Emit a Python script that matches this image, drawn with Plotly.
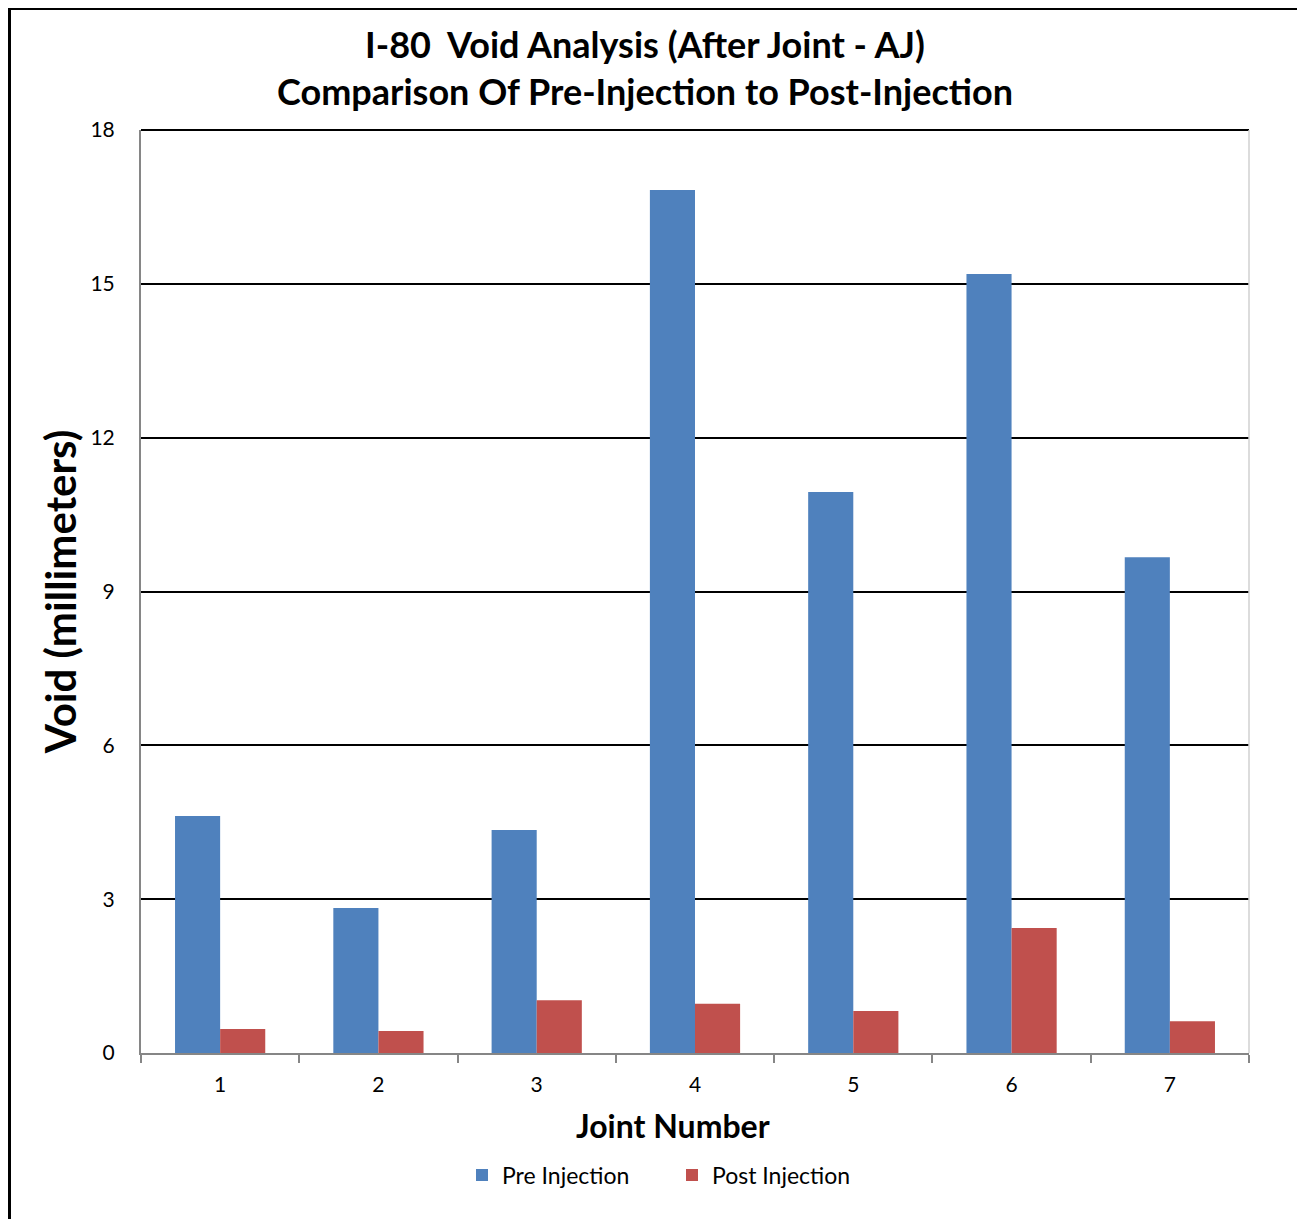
import plotly.graph_objects as go

joints = ["1", "2", "3", "4", "5", "6", "7"]
pre_injection = [4.62, 2.83, 4.35, 16.83, 10.94, 15.19, 9.67]
post_injection = [0.47, 0.43, 1.03, 0.96, 0.82, 2.44, 0.62]

OFF = 8  # page body margin
W, H = 1305 - OFF, 1219 - OFF
L, R, T, B = 141 - OFF, 1305 - 1249, 130 - OFF, 1219 - 1053
pw, ph = W - L - R, H - T - B

def px(x):
    return (x - OFF - L) / pw

def py(y):
    return (H - B - (y - OFF)) / ph

FONT = "Lato"

fig = go.Figure()
fig.add_bar(x=joints, y=pre_injection, name="Pre Injection", marker_color="#4F81BD",
            marker_line_width=0)
fig.add_bar(x=joints, y=post_injection, name="Post Injection", marker_color="#C0504D",
            marker_line_width=0)

fig.update_layout(
    width=W, height=H,
    margin=dict(l=L, r=R, t=T, b=B),
    paper_bgcolor="white", plot_bgcolor="white",
    barmode="group", bargap=0.43, bargroupgap=0,
    font=dict(family=FONT, color="black"),
    title=dict(text="<b>I-80  Void Analysis (After Joint - AJ)<br>Comparison Of Pre-Injection to Post-Injection</b>",
               x=(645 - OFF) / W, xanchor="center", y=1 - (58 - OFF) / H, yanchor="middle",
               font=dict(size=36, family=FONT)),
    legend=dict(orientation="h", x=px(672), xanchor="center", y=py(1175), yanchor="middle",
                font=dict(size=23, family=FONT), entrywidth=165, entrywidthmode="pixels",
                traceorder="normal"),
    showlegend=True,
)
fig.update_yaxes(range=[0, 18], tick0=0, dtick=3, showgrid=True, gridcolor="black", gridwidth=1.5,
                 showline=True, linecolor="#868686", linewidth=2, ticks="", zeroline=False,
                 tickfont=dict(size=21), ticklabelstandoff=20,
                 title=dict(text="<b>Void (millimeters)</b>", font=dict(size=42), standoff=1))
fig.update_xaxes(showline=True, linecolor="#868686", linewidth=2, ticks="outside", tickson="boundaries",
                 ticklen=8, tickcolor="#868686", tickwidth=2, tickfont=dict(size=21),
                 ticklabelstandoff=12)

# x axis title
fig.add_annotation(text="<b>Joint Number</b>", xref="paper", yref="paper", x=px(673), y=py(1125),
                   xanchor="center", yanchor="middle", showarrow=False, font=dict(size=32, family=FONT))
# top gridline at 18
fig.add_shape(type="line", xref="paper", yref="paper", x0=0, x1=1, y0=1, y1=1,
              line=dict(color="black", width=2))
# right edge of plot area
fig.add_shape(type="line", xref="paper", yref="paper", x0=1, x1=1, y0=0, y1=1,
              line=dict(color="#D0D0D0", width=1.5))
# outer chart border
fig.add_shape(type="rect", xref="paper", yref="paper", x0=px(9), x1=px(1302), y0=py(8), y1=py(1240),
              line=dict(color="black", width=4), fillcolor="rgba(0,0,0,0)")

fig.write_html("out.html")
